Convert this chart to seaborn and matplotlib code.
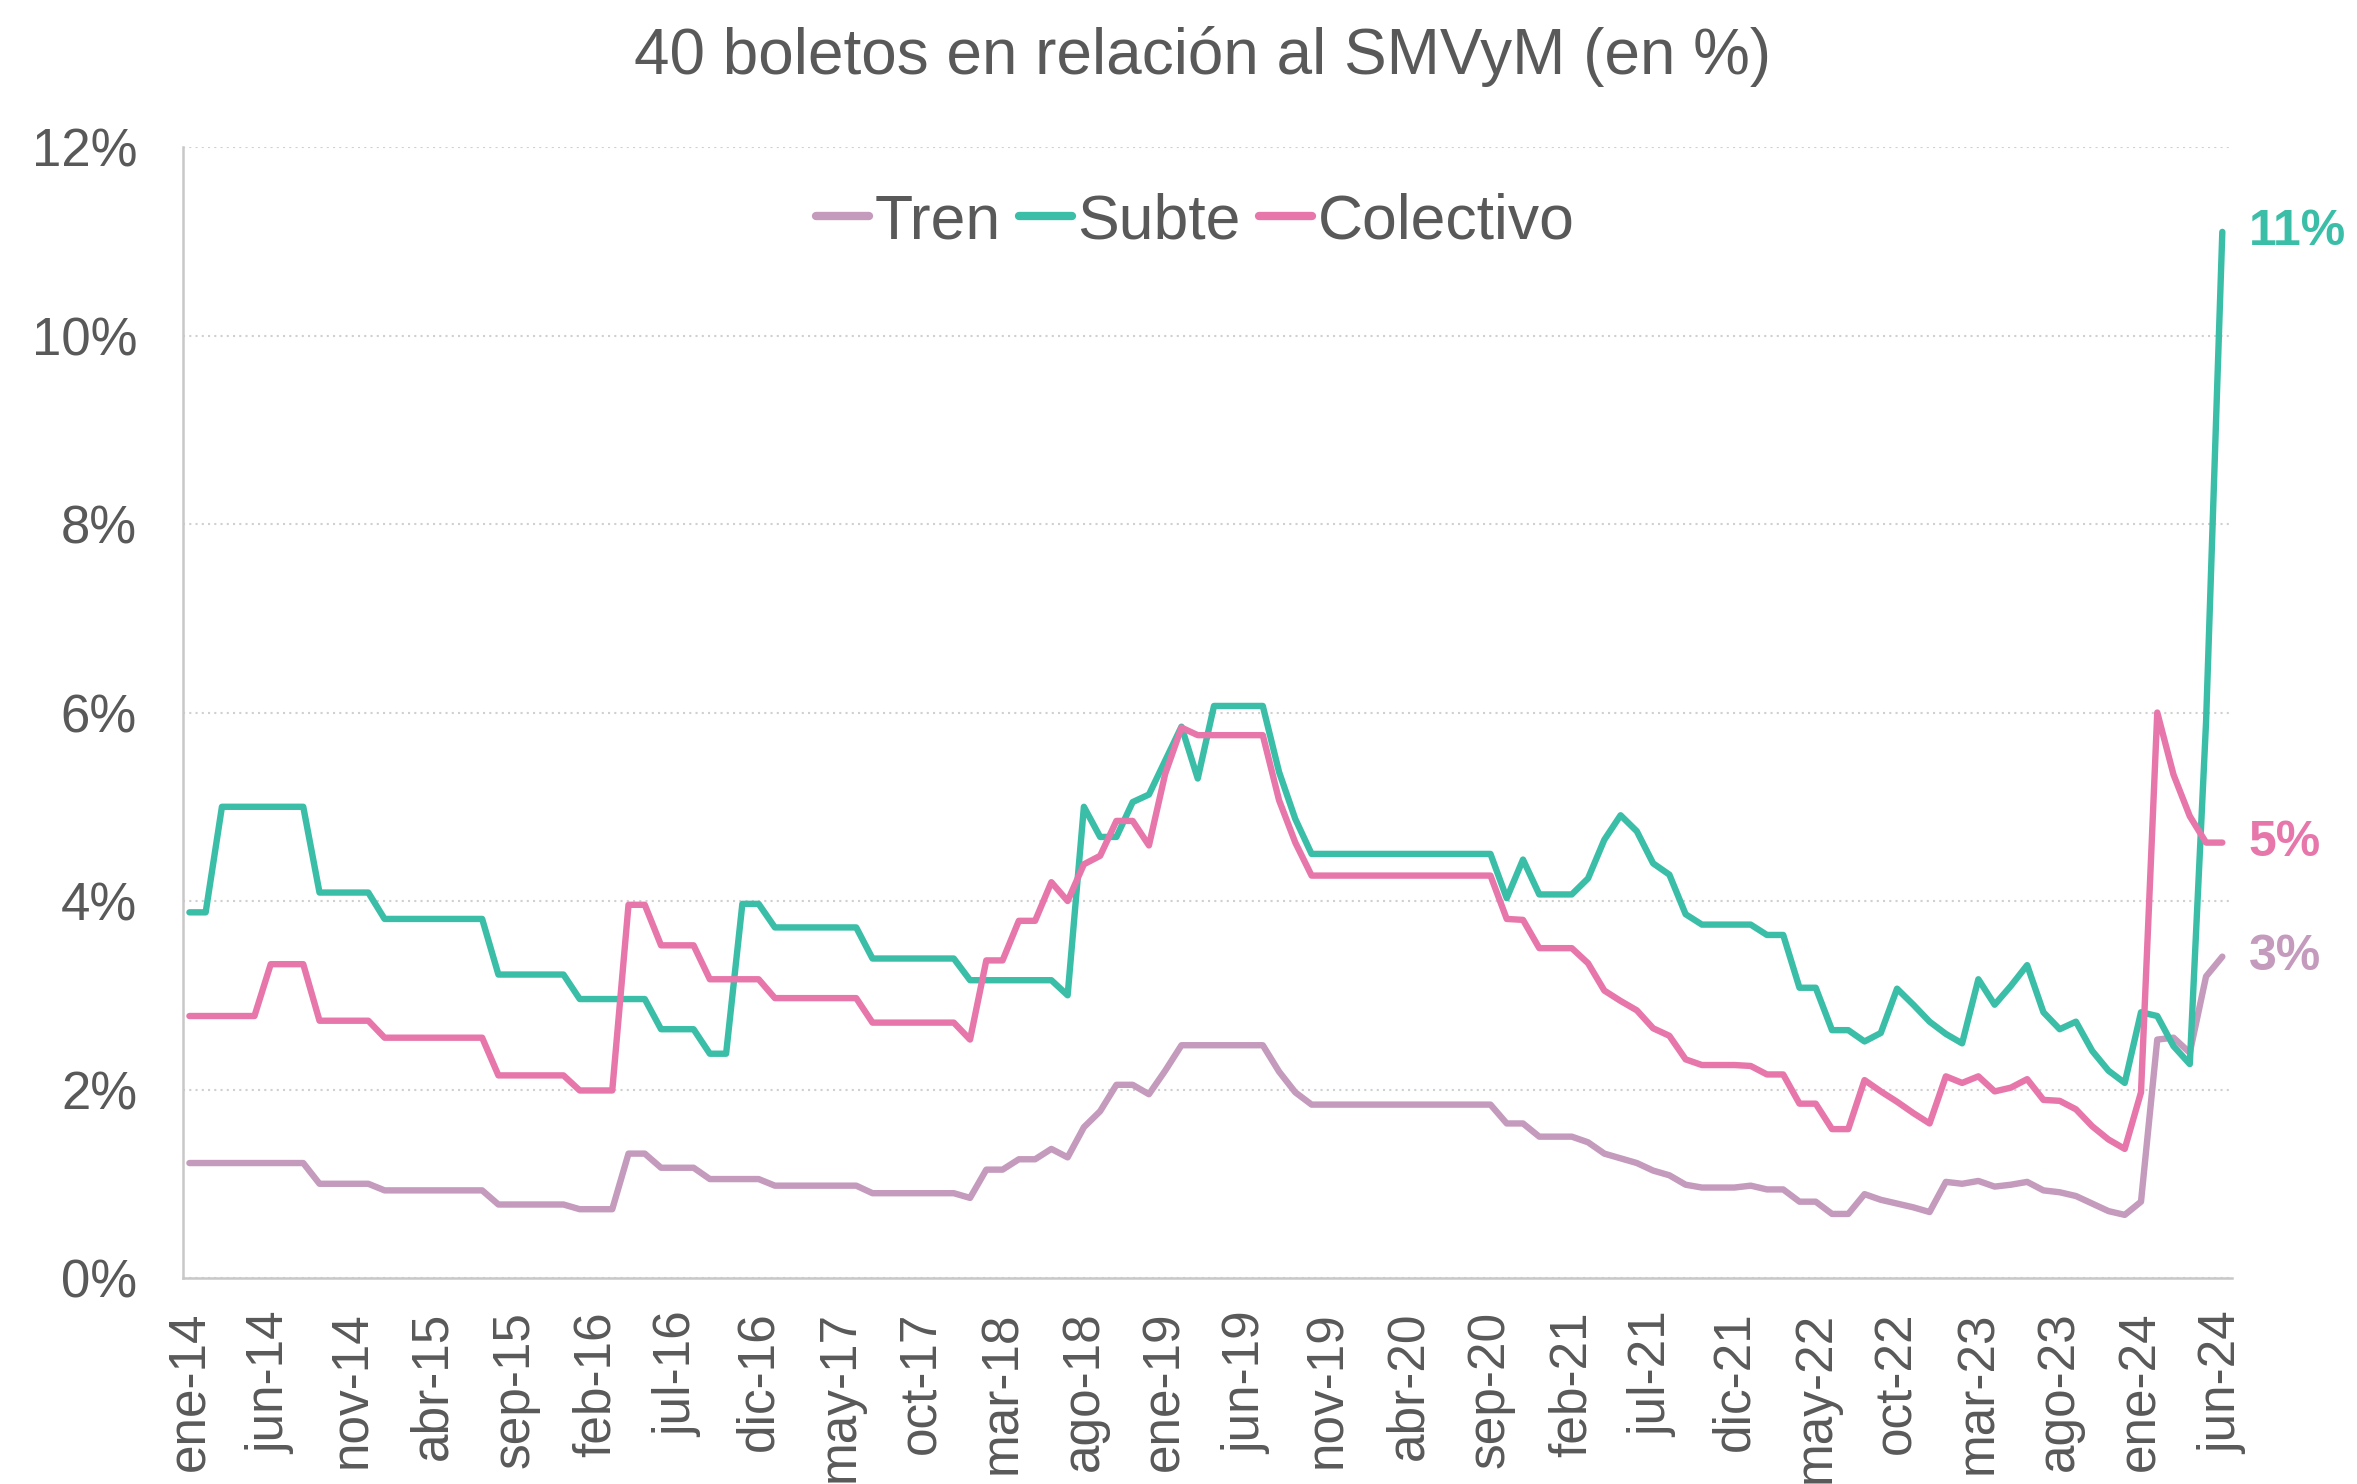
import pandas as pd
import matplotlib.pyplot as plt
import seaborn as sns
from matplotlib.ticker import FuncFormatter

# monthly values, ene-14 .. jun-24 (in % of SMVyM)
tren = [1.22, 1.22, 1.22, 1.22, 1.22, 1.22, 1.22, 1.22, 1.00, 1.00, 1.00, 1.00,
        0.93, 0.93, 0.93, 0.93, 0.93, 0.93, 0.93, 0.78, 0.78, 0.78, 0.78, 0.78,
        0.73, 0.73, 0.73, 1.32, 1.32, 1.17, 1.17, 1.17, 1.05, 1.05, 1.05, 1.05,
        0.98, 0.98, 0.98, 0.98, 0.98, 0.98, 0.90, 0.90, 0.90, 0.90, 0.90, 0.90,
        0.85, 1.15, 1.15, 1.26, 1.26, 1.37, 1.28, 1.60, 1.77, 2.05, 2.05, 1.95,
        2.20, 2.47, 2.47, 2.47, 2.47, 2.47, 2.47, 2.19, 1.97, 1.84, 1.84, 1.84,
        1.84, 1.84, 1.84, 1.84, 1.84, 1.84, 1.84, 1.84, 1.84, 1.64, 1.64, 1.50,
        1.50, 1.50, 1.44, 1.32, 1.27, 1.22, 1.14, 1.09, 0.99, 0.96, 0.96, 0.96,
        0.98, 0.94, 0.94, 0.81, 0.81, 0.68, 0.68, 0.89, 0.83, 0.79, 0.75, 0.70,
        1.02, 1.00, 1.03, 0.97, 0.99, 1.02, 0.93, 0.91, 0.87, 0.79, 0.71, 0.67,
        0.81, 2.53, 2.55, 2.39, 3.20, 3.41]

subte = [3.88, 3.88, 5.00, 5.00, 5.00, 5.00, 5.00, 5.00, 4.09, 4.09, 4.09, 4.09,
         3.81, 3.81, 3.81, 3.81, 3.81, 3.81, 3.81, 3.22, 3.22, 3.22, 3.22, 3.22,
         2.96, 2.96, 2.96, 2.96, 2.96, 2.64, 2.64, 2.64, 2.38, 2.38, 3.97, 3.97,
         3.72, 3.72, 3.72, 3.72, 3.72, 3.72, 3.39, 3.39, 3.39, 3.39, 3.39, 3.39,
         3.16, 3.16, 3.16, 3.16, 3.16, 3.16, 3.00, 5.00, 4.68, 4.68, 5.05, 5.13,
         5.49, 5.85, 5.30, 6.07, 6.07, 6.07, 6.07, 5.37, 4.87, 4.50, 4.50, 4.50,
         4.50, 4.50, 4.50, 4.50, 4.50, 4.50, 4.50, 4.50, 4.50, 4.03, 4.44, 4.07,
         4.07, 4.07, 4.24, 4.65, 4.91, 4.74, 4.40, 4.28, 3.86, 3.75, 3.75, 3.75,
         3.75, 3.64, 3.64, 3.08, 3.08, 2.63, 2.63, 2.51, 2.60, 3.07, 2.90, 2.72,
         2.59, 2.49, 3.17, 2.90, 3.10, 3.32, 2.82, 2.64, 2.72, 2.41, 2.20, 2.07,
         2.82, 2.78, 2.46, 2.27, 5.90, 11.10]

colectivo = [2.78, 2.78, 2.78, 2.78, 2.78, 3.33, 3.33, 3.33, 2.73, 2.73, 2.73, 2.73,
             2.55, 2.55, 2.55, 2.55, 2.55, 2.55, 2.55, 2.15, 2.15, 2.15, 2.15, 2.15,
             1.99, 1.99, 1.99, 3.96, 3.96, 3.53, 3.53, 3.53, 3.17, 3.17, 3.17, 3.17,
             2.97, 2.97, 2.97, 2.97, 2.97, 2.97, 2.71, 2.71, 2.71, 2.71, 2.71, 2.71,
             2.53, 3.37, 3.37, 3.79, 3.79, 4.20, 4.00, 4.39, 4.48, 4.85, 4.85, 4.59,
             5.35, 5.84, 5.76, 5.76, 5.76, 5.76, 5.76, 5.07, 4.62, 4.27, 4.27, 4.27,
             4.27, 4.27, 4.27, 4.27, 4.27, 4.27, 4.27, 4.27, 4.27, 3.81, 3.80, 3.50,
             3.50, 3.50, 3.34, 3.05, 2.94, 2.84, 2.65, 2.57, 2.32, 2.26, 2.26, 2.26,
             2.25, 2.16, 2.16, 1.85, 1.85, 1.58, 1.58, 2.10, 1.98, 1.87, 1.75, 1.64,
             2.14, 2.07, 2.14, 1.98, 2.02, 2.11, 1.89, 1.88, 1.79, 1.61, 1.47, 1.37,
             1.97, 6.00, 5.34, 4.90, 4.62, 4.62]

tick_labels = ["ene-14", "jun-14", "nov-14", "abr-15", "sep-15", "feb-16", "jul-16",
               "dic-16", "may-17", "oct-17", "mar-18", "ago-18", "ene-19", "jun-19",
               "nov-19", "abr-20", "sep-20", "feb-21", "jul-21", "dic-21", "may-22",
               "oct-22", "mar-23", "ago-23", "ene-24", "jun-24"]

series = {"Tren": tren, "Subte": subte, "Colectivo": colectivo}
colors = {"Tren": "#C49ABD", "Subte": "#3BBEA8", "Colectivo": "#E776AA"}
grey = "#595959"

rows = []
for name, vals in series.items():
    for i, v in enumerate(vals):
        rows.append({"mes": i, "valor": v, "serie": name})
df = pd.DataFrame(rows)

sns.set_style("white")
plt.rcParams["font.family"] = ["Liberation Sans", "DejaVu Sans"]

fig = plt.figure(figsize=(23.57, 14.84), dpi=100)
ax = fig.add_axes([0.0776, 0.1388, 0.8694, 0.7621])

sns.lineplot(data=df, x="mes", y="valor", hue="serie", palette=colors,
             hue_order=["Tren", "Subte", "Colectivo"], ax=ax)
for ln in ax.lines:
    ln.set_linewidth(4.6)
    ln.set_solid_joinstyle("round")
    ln.set_solid_capstyle("round")

ax.set_xlim(-0.4, 125.6)
ax.set_ylim(0, 12)
ax.set_yticks(range(0, 13, 2))
ax.yaxis.set_major_formatter(FuncFormatter(lambda v, p: f"{v:.0f}%"))
ax.set_xticks(range(0, 126, 5))
ax.set_xticklabels(tick_labels, rotation=90)
ax.set_xlabel("")
ax.set_ylabel("")

ax.grid(axis="y", color="#D0D0D0", linestyle=(0, (1, 2)), linewidth=1.5)
ax.grid(axis="x", visible=False)
for s in ["top", "right"]:
    ax.spines[s].set_visible(False)
for s in ["left", "bottom"]:
    ax.spines[s].set_color("#C8C8C8")
    ax.spines[s].set_linewidth(1.8)

ax.tick_params(axis="y", direction="in", length=7, color="#BFBFBF", width=1.5,
               labelsize=38, labelcolor=grey, pad=33)
ax.tick_params(axis="x", length=0, labelsize=37, labelcolor=grey, pad=24)

handles, labels = ax.get_legend_handles_labels()
leg = ax.legend(handles, labels, loc="center", bbox_to_anchor=(0.494, 0.934), ncol=3,
                frameon=False, fontsize=45, labelcolor=grey, handlelength=0.85,
                handletextpad=0.08, columnspacing=0.3)
for h in leg.get_lines():
    h.set_linewidth(6)
    h.set_solid_capstyle("round")

for name, vals in series.items():
    ax.annotate(f"{vals[-1]:.0f}%", xy=(125, vals[-1]), xytext=(19, 0),
                textcoords="offset points", ha="left", va="center",
                color=colors[name], fontsize=36, fontweight="bold")

fig.text(0.51, 0.962, "40 boletos en relación al SMVyM (en %)", ha="center",
         va="center", fontsize=46, color=grey)

fig.savefig("out.png", dpi=100)
